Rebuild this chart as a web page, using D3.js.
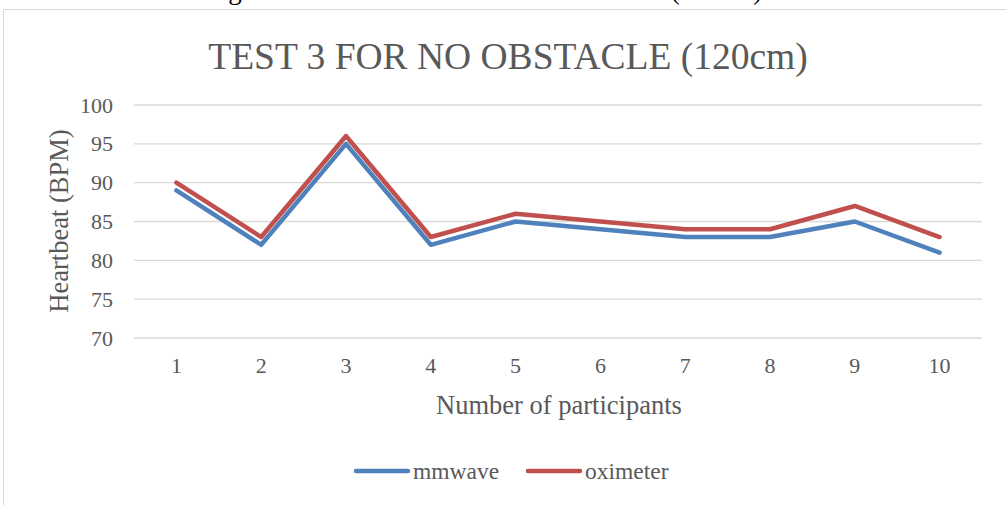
<!DOCTYPE html>
<html>
<head>
<meta charset="utf-8">
<script src="https://cdn.jsdelivr.net/npm/d3@7"></script>
<style>
  body { margin: 0; background: #fff; }
  text { font-family: "Liberation Serif", "Times New Roman", serif; fill: #595959; }
</style>
</head>
<body>
<script>
// DATA
const participants = ["1", "2", "3", "4", "5", "6", "7", "8", "9", "10"];
const mmwave = [89, 82, 95, 82, 85, 84, 83, 83, 85, 81];
const oximeter = [90, 83, 96, 83, 86, 85, 84, 84, 87, 83];
const yTicks = [70, 75, 80, 85, 90, 95, 100];

const svgwidth = 1006;
const svgheight = 505;
const margin = { top: 105, left: 134, right: 24, bottom: 167 };
const graphwidth = svgwidth - margin.left - margin.right;
const graphheight = svgheight - margin.top - margin.bottom;

const svg = d3.select("body").append("svg")
    .attr("width", svgwidth)
    .attr("height", svgheight);

// caption of the page, cut off at the top
svg.append("text")
    .attr("x", 484).attr("y", -1)
    .attr("text-anchor", "middle")
    .style("font-size", "27px")
    .style("fill", "#000")
    .text("Figure 8: mmWave for Test 3 No Obstacle (120cm)");

// chart frame
svg.append("rect")
    .attr("x", 3.5).attr("y", 9.5)
    .attr("width", 1010).attr("height", 510)
    .attr("fill", "#fff")
    .attr("stroke", "#d9d9d9");

const X = d3.scaleBand().domain(participants).range([0, graphwidth]);
const Y = d3.scaleLinear().domain([70, 100]).range([graphheight, 0]);

const graph = svg.append("g")
    .attr("transform", `translate(${margin.left}, ${margin.top})`);

// gridlines
graph.selectAll(".grid").data(yTicks).enter().append("line")
    .attr("x1", 0).attr("x2", graphwidth)
    .attr("y1", d => Y(d)).attr("y2", d => Y(d))
    .attr("stroke", "#d9d9d9").attr("stroke-width", 1.3);

// y axis labels
const yAxis = graph.append("g")
    .call(d3.axisLeft(Y).tickValues(yTicks).tickSize(0).tickPadding(21));
yAxis.select(".domain").remove();
yAxis.selectAll("text").style("font-size", "22px").style("font-family", "Liberation Serif").attr("fill", "#595959");

// x axis labels
const xAxis = graph.append("g")
    .attr("transform", `translate(0, ${graphheight})`)
    .call(d3.axisBottom(X).tickSize(0).tickPadding(19));
xAxis.select(".domain").remove();
xAxis.selectAll("text").style("font-size", "22px").style("font-family", "Liberation Serif").attr("fill", "#595959");

// lines
const line = d3.line()
    .x((d, i) => X(participants[i]) + X.bandwidth() / 2)
    .y(d => Y(d));

const series = [
    { name: "mmwave", values: mmwave, color: "#4F81BD" },
    { name: "oximeter", values: oximeter, color: "#C0504D" }
];

series.forEach(s => {
    graph.append("path")
        .datum(s.values)
        .attr("d", line)
        .attr("fill", "none")
        .attr("stroke", s.color)
        .attr("stroke-width", 4.5)
        .attr("stroke-linejoin", "round")
        .attr("stroke-linecap", "round");
});

// title
svg.append("text")
    .attr("x", 508).attr("y", 69)
    .attr("text-anchor", "middle")
    .style("font-size", "37.5px")
    .text("TEST 3 FOR NO OBSTACLE (120cm)");

// axis titles
svg.append("text")
    .attr("x", 559).attr("y", 414)
    .attr("text-anchor", "middle")
    .style("font-size", "26.5px")
    .text("Number of participants");

svg.append("text")
    .attr("transform", "translate(68, 221) rotate(-90)")
    .attr("text-anchor", "middle")
    .style("font-size", "26.5px")
    .text("Heartbeat (BPM)");

// legend
const legendX = [356, 528];
series.forEach((s, i) => {
    svg.append("line")
        .attr("x1", legendX[i]).attr("x2", legendX[i] + 52)
        .attr("y1", 471).attr("y2", 471)
        .attr("stroke", s.color).attr("stroke-width", 4.5)
        .attr("stroke-linecap", "round");
    svg.append("text")
        .attr("x", legendX[i] + 57).attr("y", 479)
        .style("font-size", "23.5px")
        .text(s.name);
});
</script>
</body>
</html>
